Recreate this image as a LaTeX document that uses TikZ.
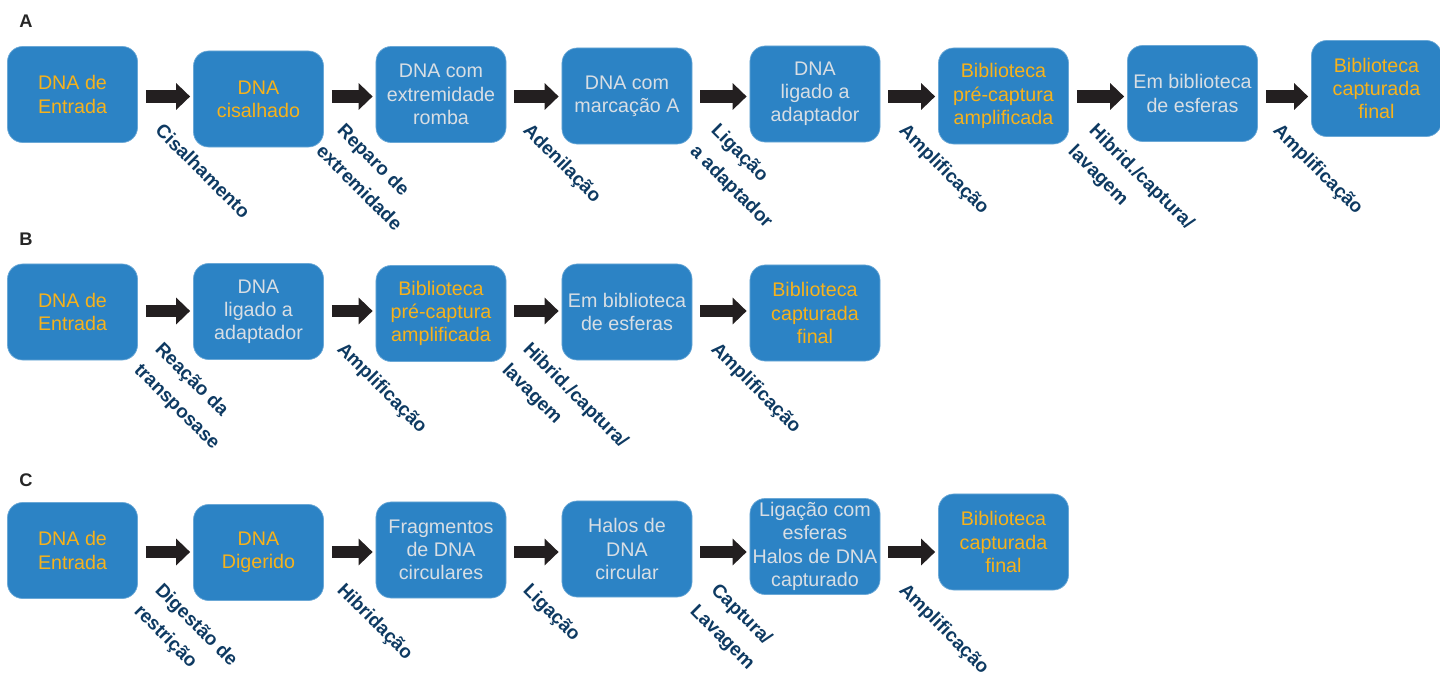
\documentclass[tikz,border=0pt]{standalone}
\usepackage{xcolor}
\usepackage{fontspec}
\setmainfont{Liberation Sans}
\usepackage{tikz}
\usetikzlibrary{arrows.meta}
\definecolor{boxblue}{RGB}{44,131,197}
\definecolor{stepyellow}{RGB}{247,178,27}
\definecolor{stepgray}{RGB}{216,222,228}
\definecolor{labelnavy}{RGB}{14,58,98}
\definecolor{arrowblack}{RGB}{35,31,32}

\begin{document}
\begin{tikzpicture}[x=0.025cm, y=-0.025cm,
  stage/.style={draw=boxblue!70!white, line width=0.5pt, fill=boxblue, rounded corners=0.38cm,
    minimum width=3.25cm, minimum height=2.4cm, align=center, inner sep=1pt,
    font=\fontsize{14}{16.5}\selectfont},
  flow/.style={draw=arrowblack, line width=0.3cm, -{Triangle[length=0.35cm, width=0.65cm]},
    shorten <=0.2cm, shorten >=0.075cm},
  steplabel/.style={rotate=-45, anchor=north west, align=left, inner sep=0pt, text=labelnavy,
    font=\fontsize{13.5}{21}\selectfont\bfseries},
  panel/.style={font=\fontsize{13}{15}\selectfont\bfseries, text=black!85}]
\useasboundingbox (0,0) rectangle (1440,676);

% Panel A
\node[panel] (pA) at (26,21) {A};
\coordinate (rowA) at (0,96.5);
\foreach \name/\x/\y/\col/\txt in {a1/72.5/94.5/stepyellow/{DNA de\\Entrada},
    a2/258.5/99/stepyellow/{DNA\\cisalhado},
    a3/441/94.5/stepgray/{DNA com\\extremidade\\romba},
    a4/627/96/stepgray/{DNA com\\marcação A},
    a5/815/94/stepgray/{DNA\\ligado a\\adaptador},
    a6/1003.5/96/stepyellow/{Biblioteca\\pré-captura\\amplificada},
    a7/1192.5/93.5/stepgray/{Em biblioteca\\de esferas},
    a8/1376.5/88.5/stepyellow/{Biblioteca\\capturada\\final}}
  \node[stage, text=\col] (\name) at (\x,\y) {\txt};
\foreach \src/\dst/\lx/\txt in {a1/a2/164/Cisalhamento,
    a2/a3/346/{Reparo de\\extremidade},
    a3/a4/532/Adenilação,
    a4/a5/720/{Ligação\\a adaptador},
    a5/a6/908/Amplificação,
    a6/a7/1098/{Hibrid./captura/\\lavagem},
    a7/a8/1282/Amplificação} {
  \draw[flow] (\src.east |- rowA) -- (\dst.west |- rowA);
  \node[steplabel] (l-\dst) at (\lx,121.5) {\txt};
}

% Panel B
\node[panel] (pB) at (26,239) {B};
\coordinate (rowB) at (0,311);
\foreach \name/\x/\y/\col/\txt in {b1/72.5/312/stepyellow/{DNA de\\Entrada},
    b2/258.5/311.5/stepgray/{DNA\\ligado a\\adaptador},
    b3/441/313.5/stepyellow/{Biblioteca\\pré-captura\\amplificada},
    b4/627/312/stepgray/{Em biblioteca\\de esferas},
    b5/815/313/stepyellow/{Biblioteca\\capturada\\final}}
  \node[stage, text=\col] (\name) at (\x,\y) {\txt};
\foreach \src/\dst/\lx/\txt in {b1/b2/164/{Reação da\\transposase},
    b2/b3/346/Amplificação,
    b3/b4/532/{Hibrid./captura/\\lavagem},
    b4/b5/720/Amplificação} {
  \draw[flow] (\src.east |- rowB) -- (\dst.west |- rowB);
  \node[steplabel] (l-\dst) at (\lx,340) {\txt};
}

% Panel C
\node[panel] (pC) at (26,480) {C};
\coordinate (rowC) at (0,552);
\foreach \name/\x/\y/\col/\txt in {c1/72.5/550.5/stepyellow/{DNA de\\Entrada},
    c2/258.5/552.5/stepyellow/{DNA\\Digerido},
    c3/441/550/stepgray/{Fragmentos\\de DNA\\circulares},
    c4/627/549/stepgray/{Halos de\\DNA\\circular},
    c5/815/546.5/stepgray/{Ligação com\\esferas\\Halos de DNA\\capturado},
    c6/1003.5/542/stepyellow/{Biblioteca\\capturada\\final}}
  \node[stage, text=\col] (\name) at (\x,\y) {\txt};
\foreach \src/\dst/\lx/\txt in {c1/c2/164/{Digestão de\\restrição},
    c2/c3/346/Hibridação,
    c3/c4/532/Ligação,
    c4/c5/720/{Captura/\\Lavagem},
    c5/c6/908/Amplificação} {
  \draw[flow] (\src.east |- rowC) -- (\dst.west |- rowC);
  \node[steplabel] (l-\dst) at (\lx,581) {\txt};
}
\end{tikzpicture}
\end{document}
